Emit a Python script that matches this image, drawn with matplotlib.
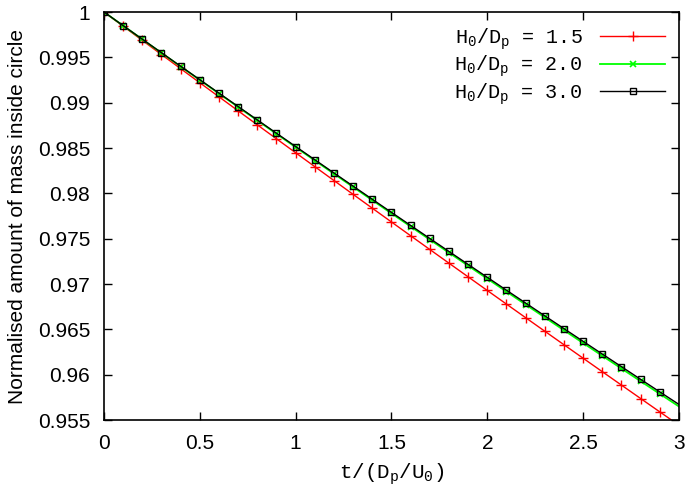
import matplotlib
matplotlib.use("Agg")
import matplotlib.pyplot as plt

t = [0.0, 0.1, 0.2, 0.3, 0.4, 0.5, 0.6, 0.7, 0.8, 0.9, 1.0, 1.1, 1.2, 1.3, 1.4, 1.5,
     1.6, 1.7, 1.8, 1.9, 2.0, 2.1, 2.2, 2.3, 2.4, 2.5, 2.6, 2.7, 2.8, 2.9, 3.0]

mass_h15 = [1.0, 0.998433, 0.996869, 0.995308, 0.993751, 0.992197, 0.990646, 0.989098,
            0.987554, 0.986014, 0.984476, 0.982942, 0.981411, 0.979884, 0.978359, 0.976839,
            0.975321, 0.973807, 0.972296, 0.970788, 0.969284, 0.967783, 0.966285, 0.964791,
            0.963300, 0.961813, 0.960328, 0.958847, 0.957369, 0.955895, 0.954424]

mass_h20 = [1.0, 0.998491, 0.996985, 0.995484, 0.993987, 0.992494, 0.991004, 0.989520,
            0.988039, 0.986562, 0.985089, 0.983621, 0.982156, 0.980696, 0.979239, 0.977787,
            0.976338, 0.974894, 0.973454, 0.972018, 0.970586, 0.969159, 0.967734, 0.966315,
            0.964899, 0.963488, 0.962080, 0.960677, 0.959277, 0.957883, 0.956491]

mass_h30 = [1.0, 0.998498, 0.997000, 0.995506, 0.994017, 0.992531, 0.991049, 0.989572,
            0.988099, 0.986629, 0.985164, 0.983703, 0.982246, 0.980793, 0.979344, 0.977899,
            0.976458, 0.975022, 0.973589, 0.972160, 0.970736, 0.969316, 0.967899, 0.966487,
            0.965079, 0.963675, 0.962275, 0.960879, 0.959487, 0.958100, 0.956716]

labels = ["H$_0$/D$_p$ = 1.5", "H$_0$/D$_p$ = 2.0", "H$_0$/D$_p$ = 3.0"]

xticks = [0, 0.5, 1, 1.5, 2, 2.5, 3]
xticklabels = ["0", "0.5", "1", "1.5", "2", "2.5", "3"]
yticks = [0.955, 0.96, 0.965, 0.97, 0.975, 0.98, 0.985, 0.99, 0.995, 1.0]
yticklabels = ["0.955", "0.96", "0.965", "0.97", "0.975", "0.98", "0.985", "0.99", "0.995", "1"]

plt.rcParams['mathtext.default'] = 'regular'
plt.rcParams['font.family'] = ['Liberation Sans', 'DejaVu Sans']

fig = plt.figure(figsize=(6.85, 4.86), dpi=100)
ax = fig.add_axes([0.1518, 0.1358, 0.8394, 0.8395])

mono = ['Liberation Mono', 'DejaVu Sans Mono']
me = slice(0, 30)
ax.plot(t, mass_h15, color='#ff0000', lw=1.0, marker='+', ms=7, mew=1.0,
        markevery=me, label=labels[0])
ax.plot(t, mass_h20, color='#00ff00', lw=1.3, marker='x', ms=5, mew=1.2,
        markevery=me, label=labels[1])
ax.plot(t, mass_h30, color='#000000', lw=1.0, marker='s', ms=5, mew=1.0,
        mfc='none', markevery=me, label=labels[2])

ax.set_xlim(0, 3)
ax.set_ylim(0.955, 1.0)
ax.set_xticks(xticks)
ax.set_xticklabels(xticklabels)
ax.set_yticks(yticks)
ax.set_yticklabels(yticklabels)
ax.tick_params(direction='in', top=True, right=True, length=6, width=1.0,
               labelsize=15, pad=10)
for s in ax.spines.values():
    s.set_linewidth(1.2)

ax.set_xlabel("t/(D$_p$/U$_0$)", fontsize=15, family=mono, labelpad=6)
ax.set_ylabel("Normalised amount of mass inside circle", fontsize=15, labelpad=8)

leg = ax.legend(loc='upper right', frameon=False, markerfirst=False,
                prop={'family': mono, 'size': 14.5}, handlelength=3.2,
                labelspacing=0.1, borderaxespad=0.3, handletextpad=0.9)

fig.savefig("out.png", dpi=100)
